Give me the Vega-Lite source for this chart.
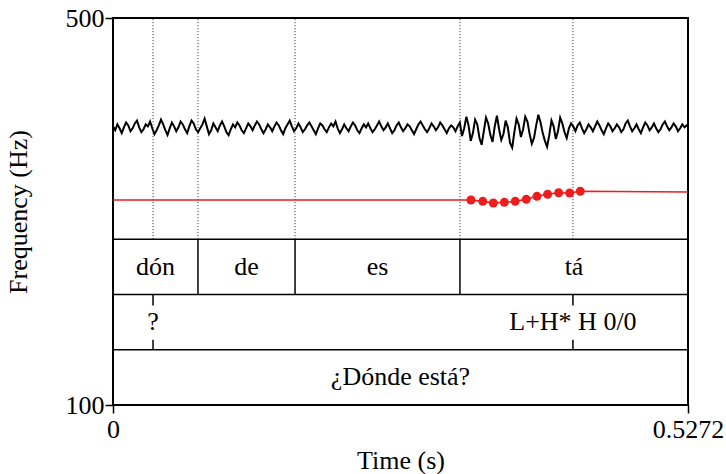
{
  "$schema": "https://vega.github.io/schema/vega-lite/v6.json",
  "width": 575,
  "height": 387,
  "autosize": {"type": "none"},
  "padding": {"left": 113, "top": 18, "right": 38, "bottom": 69},
  "background": "white",
  "config": {
    "view": {"stroke": "black", "strokeWidth": 2},
    "font": "Liberation Serif",
    "axis": {
      "labelFont": "Liberation Serif", "labelFontSize": 26, "labelColor": "black",
      "titleFont": "Liberation Serif", "titleFontSize": 26, "titleFontWeight": "normal", "titleColor": "black",
      "tickColor": "black", "tickSize": 8, "tickWidth": 1.5, "domain": false, "grid": false
    }
  },
  "datasets": {
    "noise": [
      {"t":0,"f":388},{"t":0.002,"f":384},{"t":0.004,"f":390},{"t":0.006,"f":386},{"t":0.008,"f":381},{"t":0.010,"f":387},{"t":0.012,"f":392},{"t":0.014,"f":389},{"t":0.016,"f":383},{"t":0.018,"f":386},
      {"t":0.020,"f":391},{"t":0.022,"f":394},{"t":0.024,"f":387},{"t":0.026,"f":382},{"t":0.028,"f":385},{"t":0.030,"f":390},{"t":0.032,"f":388},{"t":0.034,"f":393},{"t":0.036,"f":386},{"t":0.038,"f":380},
      {"t":0.040,"f":384},{"t":0.042,"f":389},{"t":0.044,"f":395},{"t":0.046,"f":390},{"t":0.048,"f":384},{"t":0.050,"f":379},{"t":0.052,"f":386},{"t":0.054,"f":392},{"t":0.056,"f":388},{"t":0.058,"f":383},
      {"t":0.060,"f":387},{"t":0.062,"f":393},{"t":0.064,"f":390},{"t":0.066,"f":385},{"t":0.068,"f":381},{"t":0.070,"f":388},{"t":0.072,"f":394},{"t":0.074,"f":391},{"t":0.076,"f":385},{"t":0.078,"f":382},
      {"t":0.080,"f":386},{"t":0.082,"f":390},{"t":0.084,"f":396},{"t":0.086,"f":388},{"t":0.088,"f":380},{"t":0.090,"f":384},{"t":0.092,"f":391},{"t":0.094,"f":387},{"t":0.096,"f":383},{"t":0.098,"f":389},
      {"t":0.100,"f":393},{"t":0.102,"f":388},{"t":0.104,"f":382},{"t":0.106,"f":379},{"t":0.108,"f":385},{"t":0.110,"f":390},{"t":0.112,"f":387},{"t":0.114,"f":392},{"t":0.116,"f":389},{"t":0.118,"f":384},
      {"t":0.120,"f":381},{"t":0.122,"f":386},{"t":0.124,"f":391},{"t":0.126,"f":388},{"t":0.128,"f":384},{"t":0.130,"f":389},{"t":0.132,"f":393},{"t":0.134,"f":390},{"t":0.136,"f":385},{"t":0.138,"f":381},
      {"t":0.140,"f":385},{"t":0.142,"f":390},{"t":0.144,"f":387},{"t":0.146,"f":383},{"t":0.148,"f":388},{"t":0.150,"f":392},{"t":0.152,"f":389},{"t":0.154,"f":384},{"t":0.156,"f":380},{"t":0.158,"f":386},
      {"t":0.160,"f":390},{"t":0.162,"f":394},{"t":0.164,"f":388},{"t":0.166,"f":383},{"t":0.168,"f":386},{"t":0.170,"f":391},{"t":0.172,"f":387},{"t":0.174,"f":382},{"t":0.176,"f":385},{"t":0.178,"f":389},
      {"t":0.180,"f":392},{"t":0.182,"f":388},{"t":0.184,"f":384},{"t":0.186,"f":380},{"t":0.188,"f":386},{"t":0.190,"f":391},{"t":0.192,"f":389},{"t":0.194,"f":385},{"t":0.196,"f":382},{"t":0.198,"f":387},
      {"t":0.200,"f":391},{"t":0.202,"f":388},{"t":0.204,"f":393},{"t":0.206,"f":386},{"t":0.208,"f":381},{"t":0.210,"f":385},{"t":0.212,"f":390},{"t":0.214,"f":386},{"t":0.216,"f":383},{"t":0.218,"f":388},
      {"t":0.220,"f":392},{"t":0.222,"f":389},{"t":0.224,"f":384},{"t":0.226,"f":381},{"t":0.228,"f":386},{"t":0.230,"f":390},{"t":0.232,"f":387},{"t":0.234,"f":391},{"t":0.236,"f":386},{"t":0.238,"f":382},
      {"t":0.240,"f":385},{"t":0.242,"f":389},{"t":0.244,"f":393},{"t":0.246,"f":388},{"t":0.248,"f":384},{"t":0.250,"f":387},{"t":0.252,"f":391},{"t":0.254,"f":386},{"t":0.256,"f":381},{"t":0.258,"f":384},
      {"t":0.260,"f":389},{"t":0.262,"f":392},{"t":0.264,"f":387},{"t":0.266,"f":383},{"t":0.268,"f":386},{"t":0.270,"f":390},{"t":0.272,"f":388},{"t":0.274,"f":384},{"t":0.276,"f":380},{"t":0.278,"f":385},
      {"t":0.280,"f":390},{"t":0.282,"f":393},{"t":0.284,"f":389},{"t":0.286,"f":385},{"t":0.288,"f":382},{"t":0.290,"f":386},{"t":0.292,"f":391},{"t":0.294,"f":388},{"t":0.296,"f":384},{"t":0.298,"f":387},
      {"t":0.300,"f":392},{"t":0.302,"f":389},{"t":0.304,"f":385},{"t":0.306,"f":381},{"t":0.308,"f":386},{"t":0.310,"f":389},{"t":0.312,"f":387},{"t":0.314,"f":383},{"t":0.316,"f":388},
      {"t":0.318,"f":392},{"t":0.320,"f":378},{"t":0.322,"f":386},{"t":0.324,"f":398},{"t":0.326,"f":389},{"t":0.328,"f":373},{"t":0.330,"f":381},{"t":0.332,"f":395},{"t":0.334,"f":390},{"t":0.336,"f":376},
      {"t":0.338,"f":369},{"t":0.340,"f":383},{"t":0.342,"f":397},{"t":0.344,"f":391},{"t":0.346,"f":379},{"t":0.348,"f":372},{"t":0.350,"f":388},{"t":0.352,"f":399},{"t":0.354,"f":385},{"t":0.356,"f":374},
      {"t":0.358,"f":380},{"t":0.360,"f":394},{"t":0.362,"f":387},{"t":0.364,"f":371},{"t":0.366,"f":366},{"t":0.368,"f":382},{"t":0.370,"f":396},{"t":0.372,"f":390},{"t":0.374,"f":377},{"t":0.376,"f":385},
      {"t":0.378,"f":398},{"t":0.380,"f":393},{"t":0.382,"f":380},{"t":0.384,"f":370},{"t":0.386,"f":376},{"t":0.388,"f":389},{"t":0.390,"f":400},{"t":0.392,"f":392},{"t":0.394,"f":381},{"t":0.396,"f":373},
      {"t":0.398,"f":367},{"t":0.400,"f":379},{"t":0.402,"f":394},{"t":0.404,"f":388},{"t":0.406,"f":375},{"t":0.408,"f":383},{"t":0.410,"f":397},{"t":0.412,"f":391},{"t":0.414,"f":382},{"t":0.416,"f":376},
      {"t":0.418,"f":386},{"t":0.420,"f":391},
      {"t":0.422,"f":388},{"t":0.424,"f":383},{"t":0.426,"f":389},{"t":0.428,"f":392},{"t":0.430,"f":386},{"t":0.432,"f":381},{"t":0.434,"f":385},{"t":0.436,"f":390},{"t":0.438,"f":387},{"t":0.440,"f":383},
      {"t":0.442,"f":388},{"t":0.444,"f":393},{"t":0.446,"f":389},{"t":0.448,"f":384},{"t":0.450,"f":380},{"t":0.452,"f":386},{"t":0.454,"f":391},{"t":0.456,"f":388},{"t":0.458,"f":383},{"t":0.460,"f":386},
      {"t":0.462,"f":390},{"t":0.464,"f":387},{"t":0.466,"f":382},{"t":0.468,"f":385},{"t":0.470,"f":391},{"t":0.472,"f":394},{"t":0.474,"f":388},{"t":0.476,"f":383},{"t":0.478,"f":386},{"t":0.480,"f":390},
      {"t":0.482,"f":385},{"t":0.484,"f":381},{"t":0.486,"f":387},{"t":0.488,"f":392},{"t":0.490,"f":389},{"t":0.492,"f":384},{"t":0.494,"f":387},{"t":0.496,"f":391},{"t":0.498,"f":386},{"t":0.500,"f":382},
      {"t":0.502,"f":385},{"t":0.504,"f":390},{"t":0.506,"f":393},{"t":0.508,"f":388},{"t":0.510,"f":384},{"t":0.512,"f":387},{"t":0.514,"f":391},{"t":0.516,"f":388},{"t":0.518,"f":383},{"t":0.520,"f":386},
      {"t":0.522,"f":390},{"t":0.524,"f":387},{"t":0.526,"f":389},{"t":0.5272,"f":388}
    ],
    "pitch": [
      {"t":0,"f":311.9,"kind":"line"},
      {"t":0.3282,"f":311.9,"kind":"dot"},
      {"t":0.3390,"f":310.5,"kind":"dot"},
      {"t":0.3487,"f":308.8,"kind":"dot"},
      {"t":0.3588,"f":309.5,"kind":"dot"},
      {"t":0.3688,"f":310.5,"kind":"dot"},
      {"t":0.3789,"f":312.6,"kind":"dot"},
      {"t":0.3887,"f":315.7,"kind":"dot"},
      {"t":0.3985,"f":317.8,"kind":"dot"},
      {"t":0.4086,"f":319.4,"kind":"dot"},
      {"t":0.4187,"f":319.1,"kind":"dot"},
      {"t":0.4284,"f":320.9,"kind":"dot"},
      {"t":0.5272,"f":320.2,"kind":"line"}
    ],
    "bounds": [
      {"t":0.0367,"kind":"point"},
      {"t":0.0779,"kind":"word"},
      {"t":0.1669,"kind":"word"},
      {"t":0.3181,"kind":"word"},
      {"t":0.4217,"kind":"point"}
    ],
    "labels": [
      {"t":0.0390,"tier":"words","label":"dón"},
      {"t":0.1224,"tier":"words","label":"de"},
      {"t":0.2425,"tier":"words","label":"es"},
      {"t":0.4227,"tier":"words","label":"tá"},
      {"t":0.0367,"tier":"tones","label":"?"},
      {"t":0.4217,"tier":"tones","label":"L+H* H 0/0"},
      {"t":0.2636,"tier":"sentence","label":"¿Dónde está?"}
    ]
  },
  "encoding": {
    "x": {"field": "t", "type": "quantitative", "title": "Time (s)",
      "scale": {"domain": [0, 0.5272], "nice": false, "zero": false},
      "axis": {"values": [0, 0.5272], "format": ".4~f", "labelFlush": false, "labelPadding": 3, "titlePadding": 5}}
  },
  "layer": [
    {
      "data": {"name": "noise"},
      "mark": {"type": "line", "color": "black", "strokeWidth": 2, "interpolate": "linear"},
      "encoding": {
        "y": {"field": "f", "type": "quantitative", "title": "Frequency (Hz)",
          "scale": {"domain": [100, 500], "nice": false, "zero": false},
          "axis": {"values": [100, 500], "labelPadding": 1, "titlePadding": 34}}
      }
    },
    {
      "data": {"name": "bounds"},
      "mark": {"type": "rule", "color": "#222222", "strokeWidth": 1, "strokeDash": [1, 2]},
      "encoding": {
        "y": {"datum": 3, "type": "quantitative", "scale": {"domain": [0, 7], "nice": false, "zero": false}, "axis": null},
        "y2": {"datum": 7}
      }
    },
    {
      "data": {"name": "pitch"},
      "mark": {"type": "line", "color": "#ee1c1c", "strokeWidth": 1.6},
      "encoding": {
        "y": {"field": "f", "type": "quantitative", "scale": {"domain": [100, 500], "nice": false, "zero": false}, "axis": null}
      }
    },
    {
      "data": {"name": "pitch"},
      "transform": [{"filter": "datum.kind == 'dot'"}],
      "mark": {"type": "circle", "color": "#ee1c1c", "size": 80, "opacity": 1},
      "encoding": {
        "y": {"field": "f", "type": "quantitative", "scale": {"domain": [100, 500], "nice": false, "zero": false}, "axis": null}
      }
    },
    {
      "data": {"values": [{"t": 0, "t2": 0.5272, "level": 1}, {"t": 0, "t2": 0.5272, "level": 2}, {"t": 0, "t2": 0.5272, "level": 3}]},
      "mark": {"type": "rule", "color": "black", "strokeWidth": 1.5},
      "encoding": {
        "x2": {"field": "t2"},
        "y": {"field": "level", "type": "quantitative", "scale": {"domain": [0, 7], "nice": false, "zero": false}, "axis": null}
      }
    },
    {
      "data": {"name": "bounds"},
      "transform": [{"filter": "datum.kind == 'word'"}],
      "mark": {"type": "rule", "color": "black", "strokeWidth": 1.5},
      "encoding": {
        "y": {"datum": 2, "type": "quantitative", "scale": {"domain": [0, 7], "nice": false, "zero": false}, "axis": null},
        "y2": {"datum": 3}
      }
    },
    {
      "data": {"name": "bounds"},
      "transform": [{"filter": "datum.kind == 'point'"}],
      "mark": {"type": "rule", "color": "black", "strokeWidth": 1.5},
      "encoding": {
        "y": {"datum": 1.8, "type": "quantitative", "scale": {"domain": [0, 7], "nice": false, "zero": false}, "axis": null},
        "y2": {"datum": 2}
      }
    },
    {
      "data": {"name": "bounds"},
      "transform": [{"filter": "datum.kind == 'point'"}],
      "mark": {"type": "rule", "color": "black", "strokeWidth": 1.5},
      "encoding": {
        "y": {"datum": 1, "type": "quantitative", "scale": {"domain": [0, 7], "nice": false, "zero": false}, "axis": null},
        "y2": {"datum": 1.18}
      }
    },
    {
      "data": {"name": "labels"},
      "mark": {"type": "text", "font": "Liberation Serif", "fontSize": 26, "color": "black", "baseline": "middle", "align": "center"},
      "encoding": {
        "y": {"field": "tier", "type": "ordinal", "scale": {"type": "point", "domain": ["words", "tones", "sentence"], "range": [248.8, 359.4], "padding": 0}, "axis": null},
        "text": {"field": "label"}
      }
    }
  ],
  "resolve": {"scale": {"y": "independent"}}
}
